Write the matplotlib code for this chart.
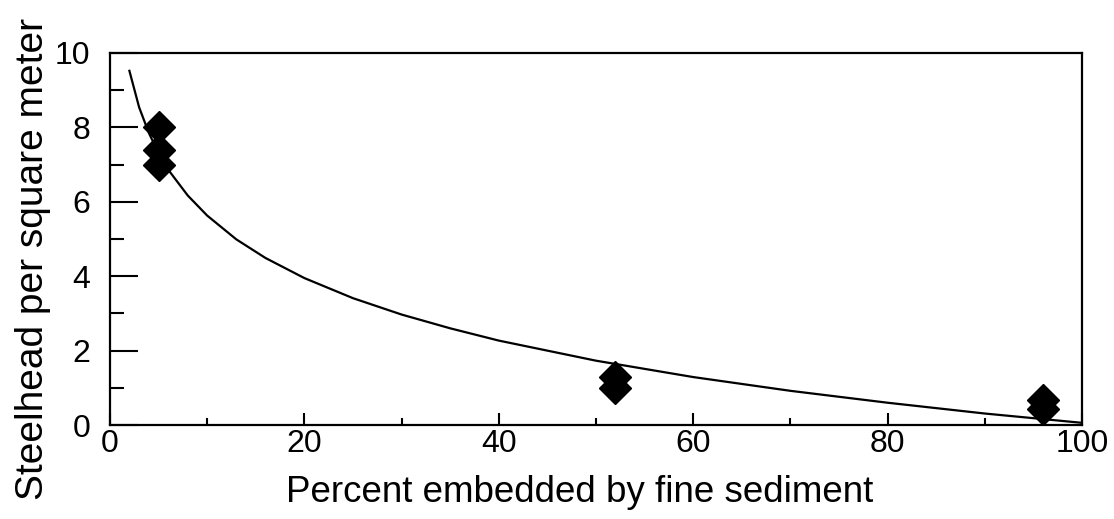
import matplotlib.pyplot as plt

# observed points (percent embedded, steelhead per m2)
obs_x = [5, 5, 5, 52, 52, 96, 96]
obs_y = [8.0, 7.4, 7.0, 1.3, 1.0, 0.67, 0.42]

# fitted curve
fit_x = [2, 3, 4, 5, 6, 8, 10, 13, 16, 20, 25, 30, 35, 40, 50, 60, 70, 80, 90, 100]
fit_y = [9.52, 8.54, 7.85, 7.31, 6.86, 6.17, 5.63, 4.99, 4.49, 3.95,
         3.41, 2.97, 2.60, 2.27, 1.73, 1.29, 0.92, 0.60, 0.31, 0.06]

plt.rcParams['font.family'] = ['Liberation Sans', 'DejaVu Sans']

fig = plt.figure(figsize=(11.14, 5.19), dpi=100)
ax = fig.add_axes([0.0987, 0.181, 0.8726, 0.717])

ax.plot(fit_x, fit_y, color='black', linewidth=1.6)
ax.plot(obs_x, obs_y, linestyle='none', marker='D', markersize=16,
        color='black')

ax.set_xlim(0, 100)
ax.set_ylim(0, 10)
ax.set_xticks([0, 20, 40, 60, 80, 100])
ax.set_xticks([10, 30, 50, 70, 90], minor=True)
ax.set_yticks([0, 2, 4, 6, 8, 10])
ax.set_yticks([1, 3, 5, 7, 9], minor=True)

ax.tick_params(axis='both', which='both', direction='in', labelsize=23,
               width=1.5, color='black')
ax.tick_params(axis='y', which='major', length=20, pad=14)
ax.tick_params(axis='y', which='minor', length=10)
ax.tick_params(axis='x', which='major', length=9, pad=3)
ax.tick_params(axis='x', which='minor', length=5)

for s in ax.spines.values():
    s.set_linewidth(1.6)

ax.set_xlabel('Percent embedded by fine sediment', fontsize=26.5)
ax.xaxis.set_label_coords(0.4835, -0.135)
ax.set_ylabel('Steelhead per square meter', fontsize=28)
ax.yaxis.set_label_coords(-0.061, 0.446)

plt.savefig('out.png', dpi=100)
plt.close()
